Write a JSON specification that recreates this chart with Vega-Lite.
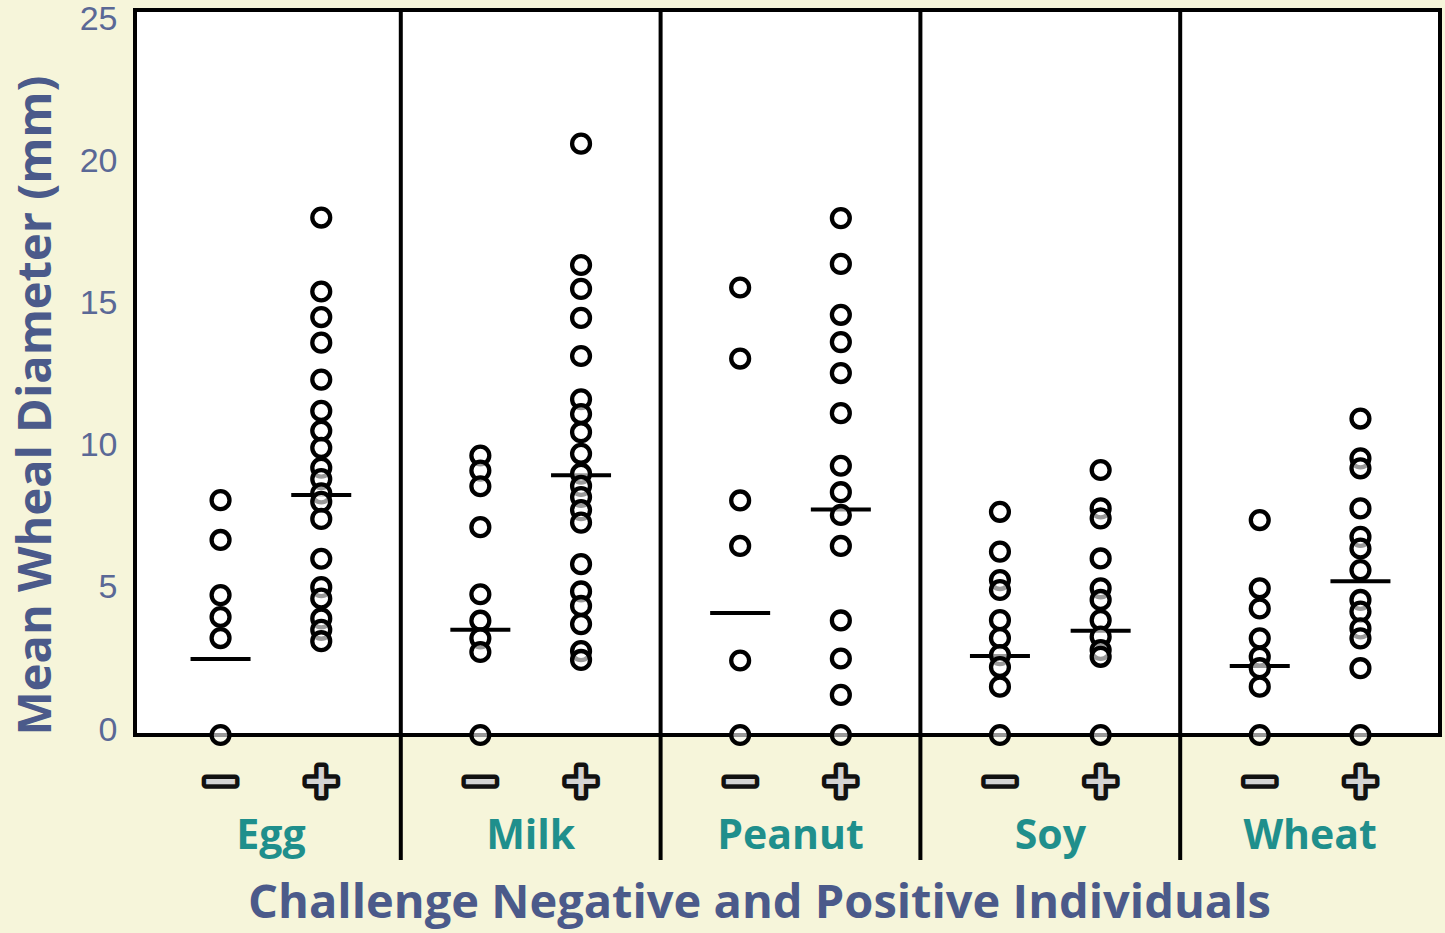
{
  "$schema": "https://vega.github.io/schema/vega-lite/v6.json",
  "width": 1305,
  "height": 725,
  "autosize": "none",
  "padding": {"left": 135, "top": 10, "right": 5, "bottom": 198},
  "background": "#f6f5da",
  "config": {
    "view": {"stroke": "#000000", "strokeWidth": 4, "fill": "#ffffff"}
  },
  "datasets": {
    "points": [
      {"food": "Egg", "sign": "−", "v": 8.26}, {"food": "Egg", "sign": "−", "v": 6.86}, {"food": "Egg", "sign": "−", "v": 4.92}, {"food": "Egg", "sign": "−", "v": 4.15}, {"food": "Egg", "sign": "−", "v": 3.41}, {"food": "Egg", "sign": "−", "v": 0},
      {"food": "Egg", "sign": "+", "v": 18.2}, {"food": "Egg", "sign": "+", "v": 15.6}, {"food": "Egg", "sign": "+", "v": 14.7}, {"food": "Egg", "sign": "+", "v": 13.8}, {"food": "Egg", "sign": "+", "v": 12.5}, {"food": "Egg", "sign": "+", "v": 11.4}, {"food": "Egg", "sign": "+", "v": 10.7}, {"food": "Egg", "sign": "+", "v": 10.1}, {"food": "Egg", "sign": "+", "v": 9.4}, {"food": "Egg", "sign": "+", "v": 9.0}, {"food": "Egg", "sign": "+", "v": 8.5}, {"food": "Egg", "sign": "+", "v": 8.2}, {"food": "Egg", "sign": "+", "v": 7.6}, {"food": "Egg", "sign": "+", "v": 6.2}, {"food": "Egg", "sign": "+", "v": 5.2}, {"food": "Egg", "sign": "+", "v": 4.8}, {"food": "Egg", "sign": "+", "v": 4.1}, {"food": "Egg", "sign": "+", "v": 3.7}, {"food": "Egg", "sign": "+", "v": 3.3},
      {"food": "Milk", "sign": "−", "v": 9.83}, {"food": "Milk", "sign": "−", "v": 9.3}, {"food": "Milk", "sign": "−", "v": 8.75}, {"food": "Milk", "sign": "−", "v": 7.31}, {"food": "Milk", "sign": "−", "v": 4.95}, {"food": "Milk", "sign": "−", "v": 4.02}, {"food": "Milk", "sign": "−", "v": 3.4}, {"food": "Milk", "sign": "−", "v": 2.92}, {"food": "Milk", "sign": "−", "v": 0},
      {"food": "Milk", "sign": "+", "v": 20.8}, {"food": "Milk", "sign": "+", "v": 16.53}, {"food": "Milk", "sign": "+", "v": 15.69}, {"food": "Milk", "sign": "+", "v": 14.67}, {"food": "Milk", "sign": "+", "v": 13.33}, {"food": "Milk", "sign": "+", "v": 11.81}, {"food": "Milk", "sign": "+", "v": 11.29}, {"food": "Milk", "sign": "+", "v": 10.65}, {"food": "Milk", "sign": "+", "v": 9.89}, {"food": "Milk", "sign": "+", "v": 9.19}, {"food": "Milk", "sign": "+", "v": 8.76}, {"food": "Milk", "sign": "+", "v": 8.37}, {"food": "Milk", "sign": "+", "v": 7.91}, {"food": "Milk", "sign": "+", "v": 7.47}, {"food": "Milk", "sign": "+", "v": 6.01}, {"food": "Milk", "sign": "+", "v": 5.05}, {"food": "Milk", "sign": "+", "v": 4.54}, {"food": "Milk", "sign": "+", "v": 3.9}, {"food": "Milk", "sign": "+", "v": 2.95}, {"food": "Milk", "sign": "+", "v": 2.64},
      {"food": "Peanut", "sign": "−", "v": 15.74}, {"food": "Peanut", "sign": "−", "v": 13.24}, {"food": "Peanut", "sign": "−", "v": 8.25}, {"food": "Peanut", "sign": "−", "v": 6.65}, {"food": "Peanut", "sign": "−", "v": 2.62}, {"food": "Peanut", "sign": "−", "v": 0},
      {"food": "Peanut", "sign": "+", "v": 18.18}, {"food": "Peanut", "sign": "+", "v": 16.57}, {"food": "Peanut", "sign": "+", "v": 14.78}, {"food": "Peanut", "sign": "+", "v": 13.82}, {"food": "Peanut", "sign": "+", "v": 12.73}, {"food": "Peanut", "sign": "+", "v": 11.32}, {"food": "Peanut", "sign": "+", "v": 9.47}, {"food": "Peanut", "sign": "+", "v": 8.54}, {"food": "Peanut", "sign": "+", "v": 7.74}, {"food": "Peanut", "sign": "+", "v": 6.65}, {"food": "Peanut", "sign": "+", "v": 4.03}, {"food": "Peanut", "sign": "+", "v": 2.69}, {"food": "Peanut", "sign": "+", "v": 1.41}, {"food": "Peanut", "sign": "+", "v": 0},
      {"food": "Soy", "sign": "−", "v": 7.85}, {"food": "Soy", "sign": "−", "v": 6.45}, {"food": "Soy", "sign": "−", "v": 5.45}, {"food": "Soy", "sign": "−", "v": 5.1}, {"food": "Soy", "sign": "−", "v": 4.04}, {"food": "Soy", "sign": "−", "v": 3.41}, {"food": "Soy", "sign": "−", "v": 2.81}, {"food": "Soy", "sign": "−", "v": 2.39}, {"food": "Soy", "sign": "−", "v": 1.7}, {"food": "Soy", "sign": "−", "v": 0},
      {"food": "Soy", "sign": "+", "v": 9.32}, {"food": "Soy", "sign": "+", "v": 7.97}, {"food": "Soy", "sign": "+", "v": 7.62}, {"food": "Soy", "sign": "+", "v": 6.21}, {"food": "Soy", "sign": "+", "v": 5.16}, {"food": "Soy", "sign": "+", "v": 4.75}, {"food": "Soy", "sign": "+", "v": 4.04}, {"food": "Soy", "sign": "+", "v": 3.46}, {"food": "Soy", "sign": "+", "v": 2.99}, {"food": "Soy", "sign": "+", "v": 2.75}, {"food": "Soy", "sign": "+", "v": 0},
      {"food": "Wheat", "sign": "−", "v": 7.56}, {"food": "Wheat", "sign": "−", "v": 5.16}, {"food": "Wheat", "sign": "−", "v": 4.45}, {"food": "Wheat", "sign": "−", "v": 3.4}, {"food": "Wheat", "sign": "−", "v": 2.75}, {"food": "Wheat", "sign": "−", "v": 2.35}, {"food": "Wheat", "sign": "−", "v": 1.7}, {"food": "Wheat", "sign": "−", "v": 0},
      {"food": "Wheat", "sign": "+", "v": 11.13}, {"food": "Wheat", "sign": "+", "v": 9.73}, {"food": "Wheat", "sign": "+", "v": 9.38}, {"food": "Wheat", "sign": "+", "v": 7.97}, {"food": "Wheat", "sign": "+", "v": 6.97}, {"food": "Wheat", "sign": "+", "v": 6.56}, {"food": "Wheat", "sign": "+", "v": 5.8}, {"food": "Wheat", "sign": "+", "v": 4.75}, {"food": "Wheat", "sign": "+", "v": 4.34}, {"food": "Wheat", "sign": "+", "v": 3.75}, {"food": "Wheat", "sign": "+", "v": 3.4}, {"food": "Wheat", "sign": "+", "v": 2.35}, {"food": "Wheat", "sign": "+", "v": 0}
    ],
    "medians": [
      {"food": "Egg", "sign": "−", "median": 2.67}, {"food": "Egg", "sign": "+", "median": 8.44},
      {"food": "Milk", "sign": "−", "median": 3.7}, {"food": "Milk", "sign": "+", "median": 9.14},
      {"food": "Peanut", "sign": "−", "median": 4.29}, {"food": "Peanut", "sign": "+", "median": 7.93},
      {"food": "Soy", "sign": "−", "median": 2.78}, {"food": "Soy", "sign": "+", "median": 3.67},
      {"food": "Wheat", "sign": "−", "median": 2.43}, {"food": "Wheat", "sign": "+", "median": 5.41}
    ]
  },
  "encoding": {
    "x": {
      "field": "food",
      "type": "nominal",
      "sort": ["Egg", "Milk", "Peanut", "Soy", "Wheat"],
      "scale": {"type": "band", "paddingInner": 0, "paddingOuter": 0, "range": [6, 1305]},
      "axis": {
        "title": "Challenge Negative and Positive Individuals",
        "titleFont": "Open Sans",
        "titleFontWeight": "bold",
        "titleFontSize": 47,
        "titleColor": "#4b5a8a",
        "titlePadding": 24,
        "titleX": 624,
        "labelFont": "Open Sans",
        "labelFontWeight": "bold",
        "labelFontSize": 41,
        "labelColor": "#1f8f8c",
        "labelAngle": 0,
        "labelBaseline": "alphabetic",
        "labelPadding": 113,
        "ticks": false,
        "domain": false,
        "grid": false
      }
    }
  },
  "layer": [
    {
      "data": {"name": "medians"},
      "transform": [{"filter": "datum.sign === '−' && datum.food !== 'Egg'"}],
      "mark": {"type": "rule", "stroke": "#000000", "strokeWidth": 4},
      "encoding": {
        "x": {"field": "food", "type": "nominal", "bandPosition": 0, "sort": ["Egg", "Milk", "Peanut", "Soy", "Wheat"]},
        "y": {"datum": 25.5},
        "y2": {"datum": -4.4}
      }
    },
    {
      "data": {"name": "medians"},
      "mark": {"type": "text", "font": "DejaVu Sans", "fontWeight": "bold", "fontSize": 46, "fill": "#111111", "stroke": "#111111", "strokeWidth": 9, "strokeJoin": "round", "baseline": "middle", "align": "center"},
      "encoding": {
        "xOffset": {"field": "sign", "type": "nominal", "scale": {"type": "point", "domain": ["−", "+"], "padding": 0.79}},
        "y": {"datum": -1.65},
        "text": {"field": "sign"}
      }
    },
    {
      "data": {"name": "medians"},
      "mark": {"type": "text", "font": "DejaVu Sans", "fontWeight": "bold", "fontSize": 46, "fill": "#d4d4d4", "baseline": "middle", "align": "center"},
      "encoding": {
        "xOffset": {"field": "sign", "type": "nominal", "scale": {"type": "point", "domain": ["−", "+"], "padding": 0.79}},
        "y": {"datum": -1.65},
        "text": {"field": "sign"}
      }
    },
    {
      "data": {"name": "medians"},
      "mark": {"type": "tick", "color": "#000000", "thickness": 4, "size": 60, "orient": "horizontal", "opacity": 1},
      "encoding": {
        "xOffset": {"field": "sign", "type": "nominal", "scale": {"type": "point", "domain": ["−", "+"], "padding": 0.79}},
        "y": {"field": "median", "type": "quantitative"}
      }
    },
    {
      "data": {"name": "points"},
      "mark": {"type": "point", "shape": "circle", "filled": false, "fill": "#ffffff", "fillOpacity": 0.6, "stroke": "#000000", "strokeWidth": 4.3, "size": 320, "opacity": 1},
      "encoding": {
        "xOffset": {"field": "sign", "type": "nominal", "scale": {"type": "point", "domain": ["−", "+"], "padding": 0.79}},
        "y": {
          "field": "v",
          "type": "quantitative",
          "scale": {"domain": [0, 25.5], "nice": false, "zero": false},
          "axis": {
            "title": "Mean Wheal Diameter (mm)",
            "titleFont": "Open Sans",
            "titleFontWeight": "bold",
            "titleFontSize": 47,
            "titleColor": "#4b5a8a",
            "titlePadding": 19,
            "titleAnchor": "start",
            "values": [0, 5, 10, 15, 20, 25],
            "labelFont": "Liberation Sans",
            "labelFontSize": 34,
            "labelColor": "#5a6896",
            "labelPadding": 18,
            "labelOffset": -5,
            "ticks": false,
            "domain": false,
            "grid": false
          }
        }
      }
    }
  ]
}
